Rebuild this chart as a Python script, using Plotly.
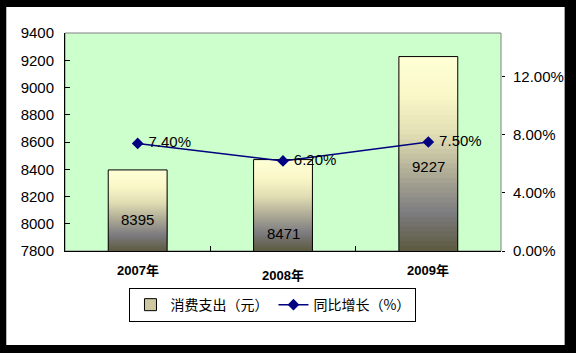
import plotly.graph_objects as go

# ---- data ----
categories = ["2007年", "2008年", "2009年"]
spending = [8395, 8471, 9227]
growth = [0.074, 0.062, 0.075]
growth_labels = ["7.40%", "6.20%", "7.50%"]
spend_labels = ["8395", "8471", "9227"]
y_ticks = [7800, 8000, 8200, 8400, 8600, 8800, 9000, 9200, 9400]
y2_ticks = [0.0, 0.04, 0.08, 0.12]

# ---- style ----
Y_MIN, Y_MAX = 7800, 9400
Y2_MAX = 0.15
BAR_W = 0.405
N_SEG = 40
label_shift = [32, 18, 85]
x_label_shift = [0, -5, 0]
stops = [
    (0.0, (92, 90, 62)),
    (0.2, (125, 124, 128)),
    (0.4, (175, 172, 150)),
    (0.6, (225, 222, 180)),
    (0.8, (250, 248, 200)),
    (1.0, (255, 255, 215)),
]


def grad(t):
    for (t0, c0), (t1, c1) in zip(stops[:-1], stops[1:]):
        if t <= t1:
            f = (t - t0) / (t1 - t0)
            c = [round(a + (b - a) * f) for a, b in zip(c0, c1)]
            return "rgb(%d,%d,%d)" % tuple(c)
    return "rgb(%d,%d,%d)" % stops[-1][1]


fig = go.Figure()

# legend swatch for bars
fig.add_trace(go.Bar(
    x=[categories[0]], y=[None], name="消费支出（元）",
    marker=dict(color="rgb(205,200,160)", line=dict(color="black", width=1)),
    showlegend=True,
))

# gradient segments: each runs from its own base to the bar top, later ones on top
for k in range(N_SEG):
    bases = [Y_MIN + (v - Y_MIN) * k / N_SEG for v in spending]
    heights = [v - b for v, b in zip(spending, bases)]
    fig.add_trace(go.Bar(
        x=categories, y=heights, base=bases, width=BAR_W,
        marker=dict(color=grad((k + 0.5) / N_SEG), line=dict(width=0)),
        showlegend=False, hoverinfo="skip",
    ))

# outline
fig.add_trace(go.Bar(
    x=categories, y=spending, width=BAR_W,
    marker=dict(color="rgba(0,0,0,0)", line=dict(color="black", width=1)),
    showlegend=False,
))

# growth line
fig.add_trace(go.Scatter(
    x=categories, y=growth, yaxis="y2", name="同比增长（%）",
    mode="lines+markers+text",
    line=dict(color="#000080", width=1.5),
    marker=dict(symbol="diamond", size=9, color="#000080"),
    text=[" " + t for t in growth_labels], textposition="middle right",
    textfont=dict(family="Arial, Liberation Sans", size=15, color="black"),
))

# bar value labels
for c, lab, sh in zip(categories, spend_labels, label_shift):
    fig.add_annotation(x=c, y=Y_MIN, xref="x", yref="y", text=lab,
                       showarrow=False, yshift=sh, yanchor="middle",
                       font=dict(family="Arial, Liberation Sans", size=15, color="black"))

# category labels
for c, sh in zip(categories, x_label_shift):
    fig.add_annotation(x=c, y=0, xref="x", yref="paper", text="<b>%s</b>" % c,
                       showarrow=False, yshift=-19 + sh, yanchor="middle",
                       font=dict(family="Arial, Noto Sans CJK SC", size=13, color="black"))

# frame shapes
fig.add_shape(type="rect", xref="paper", yref="paper",
              x0=-0.1347, x1=1.146, y0=-0.431, y1=1.119,
              fillcolor="white", line=dict(width=0), layer="below")
fig.add_shape(type="rect", xref="paper", yref="paper",
              x0=0, x1=1, y0=0, y1=1,
              fillcolor="#CCFFCC", line=dict(color="#808080", width=1), layer="below")

fig.update_layout(
    width=576, height=353,
    margin=dict(l=65, r=73, t=33, b=102),
    paper_bgcolor="black", plot_bgcolor="rgba(0,0,0,0)",
    barmode="overlay", showlegend=True,
    font=dict(family="Arial, Liberation Sans", color="black"),
    xaxis=dict(type="category", showticklabels=False, ticks="inside", tickson="boundaries",
               ticklen=5, tickcolor="black", showline=True, linecolor="black", linewidth=1,
               showgrid=False, range=[-0.5, 2.5], fixedrange=True),
    yaxis=dict(range=[Y_MIN, Y_MAX], tickvals=y_ticks, ticks="inside", ticklen=5,
               tickcolor="black", showline=True, linecolor="black", linewidth=1,
               showgrid=False, zeroline=False, ticklabelstandoff=7,
               tickfont=dict(family="Arial, Liberation Sans", size=15)),
    yaxis2=dict(range=[0, Y2_MAX], tickvals=y2_ticks, tickformat=".2%", overlaying="y",
                side="right", ticks="outside", ticklen=3, tickcolor="black",
                showline=False, showgrid=False, zeroline=False, ticklabelstandoff=5,
                tickfont=dict(family="Arial, Liberation Sans", size=15)),
    legend=dict(orientation="h", x=0.477, xanchor="center", y=-0.17, yanchor="top",
                bgcolor="white", bordercolor="black", borderwidth=1,
                font=dict(family="Noto Sans CJK SC", size=14, color="black"),
                traceorder="normal"),
)

fig.write_html("out.html")
